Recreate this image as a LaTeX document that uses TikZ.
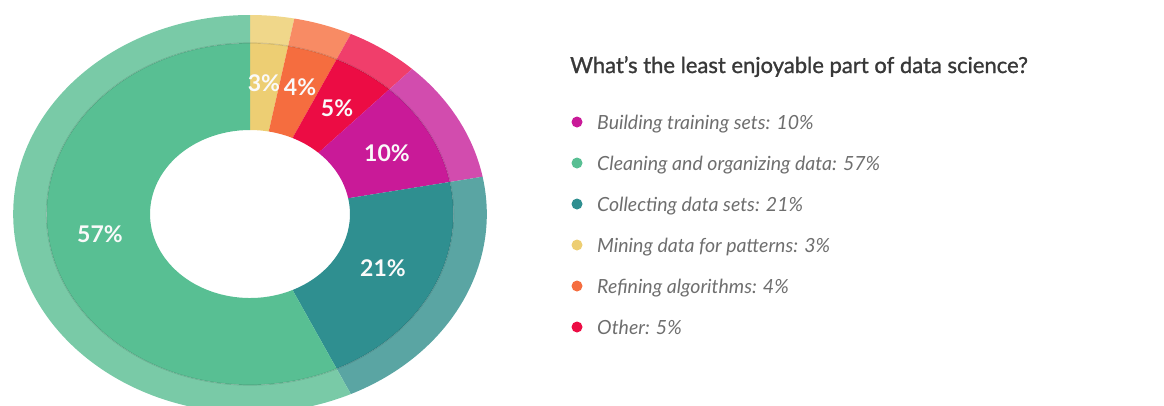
\documentclass[tikz,border=0pt]{standalone}
\usepackage{fontspec}
\setmainfont{Lato}
\newfontfamily\titlefont[FakeBold=1.2]{Lato}

\definecolor{greenin}{HTML}{58BF93}
\definecolor{greenout}{HTML}{79CAA7}
\definecolor{tealin}{HTML}{2F8F90}
\definecolor{tealout}{HTML}{5AA5A3}
\definecolor{magin}{HTML}{C91A98}
\definecolor{magout}{HTML}{D24CAE}
\definecolor{redin}{HTML}{EC0C44}
\definecolor{redout}{HTML}{F03E6B}
\definecolor{orangein}{HTML}{F56D3F}
\definecolor{orangeout}{HTML}{F88B64}
\definecolor{yellowin}{HTML}{EDCE73}
\definecolor{yellowout}{HTML}{F0D78A}
\definecolor{titlegray}{HTML}{383838}
\definecolor{itemgray}{HTML}{6E6E6E}

% one slice of the donut: start angle, end angle, inner colour, outer colour
\newcommand\donutslice[4]{%
  \fill[#3] (#1:84) arc[start angle=#1, end angle=#2, radius=84]
    -- (#2:171) arc[start angle=#2, end angle=#1, radius=171] -- cycle;
  \fill[#4] (#1:171) arc[start angle=#1, end angle=#2, radius=171]
    -- (#2:199) arc[start angle=#2, end angle=#1, radius=199] -- cycle;
}

\tikzset{
  pct/.style={font=\fontsize{23}{23}\selectfont\bfseries, text=white!96!gray, inner sep=0pt},
  legdot/.style={circle, inner sep=0pt, minimum size=11pt},
  legtext/.style={anchor=base west, inner sep=0pt, text=itemgray,
    font=\fontsize{19.5}{19.5}\selectfont\itshape},
}

\begin{document}
\begin{tikzpicture}[x=1pt,y=-1pt]
\useasboundingbox (0,0) rectangle (1164,405);
\clip (0,0) rectangle (1164,405);

% donut
\begin{scope}[shift={(250,214)}, xscale=1.19, yscale=-1]
\donutslice{90}{79.2}{yellowin}{yellowout}
\donutslice{79.2}{64.8}{orangein}{orangeout}
\donutslice{64.8}{46.8}{redin}{redout}
\donutslice{46.8}{10.8}{magin}{magout}
\donutslice{10.8}{-64.8}{tealin}{tealout}
\donutslice{-64.8}{-270}{greenin}{greenout}
\draw[black, opacity=0.12, line width=1.2pt] (0,0) circle[radius=171];
\end{scope}

\node[pct] (p57) at (100,234) {57\%};
\node[pct] (p21) at (383,268) {21\%};
\node[pct] (p10) at (387,153) {10\%};
\node[pct] (p5) at (337,108) {5\%};
\node[pct] (p4) at (300,87) {4\%};
\node[pct] (p3) at (264,83) {3\%};

% legend
\node[anchor=base west, inner sep=0pt, text=titlegray, font=\fontsize{22}{22}\titlefont]
  (title) at (570,73) {What’s the least enjoyable part of data science?};

\node[legdot, fill=magin] (d1) at (577,122) {};
\node[legtext] (t1) at (597,129) {Building training sets: 10\%};
\node[legdot, fill=greenin] (d2) at (577,163) {};
\node[legtext] (t2) at (597,170) {Cleaning and organizing data: 57\%};
\node[legdot, fill=tealin] (d3) at (577,204) {};
\node[legtext] (t3) at (597,211) {Collecting data sets: 21\%};
\node[legdot, fill=yellowin] (d4) at (577,245) {};
\node[legtext] (t4) at (597,252) {Mining data for patterns: 3\%};
\node[legdot, fill=orangein] (d5) at (577,286) {};
\node[legtext] (t5) at (597,293) {Refining algorithms: 4\%};
\node[legdot, fill=redin] (d6) at (577,327) {};
\node[legtext] (t6) at (597,334) {Other: 5\%};
\end{tikzpicture}
\end{document}
